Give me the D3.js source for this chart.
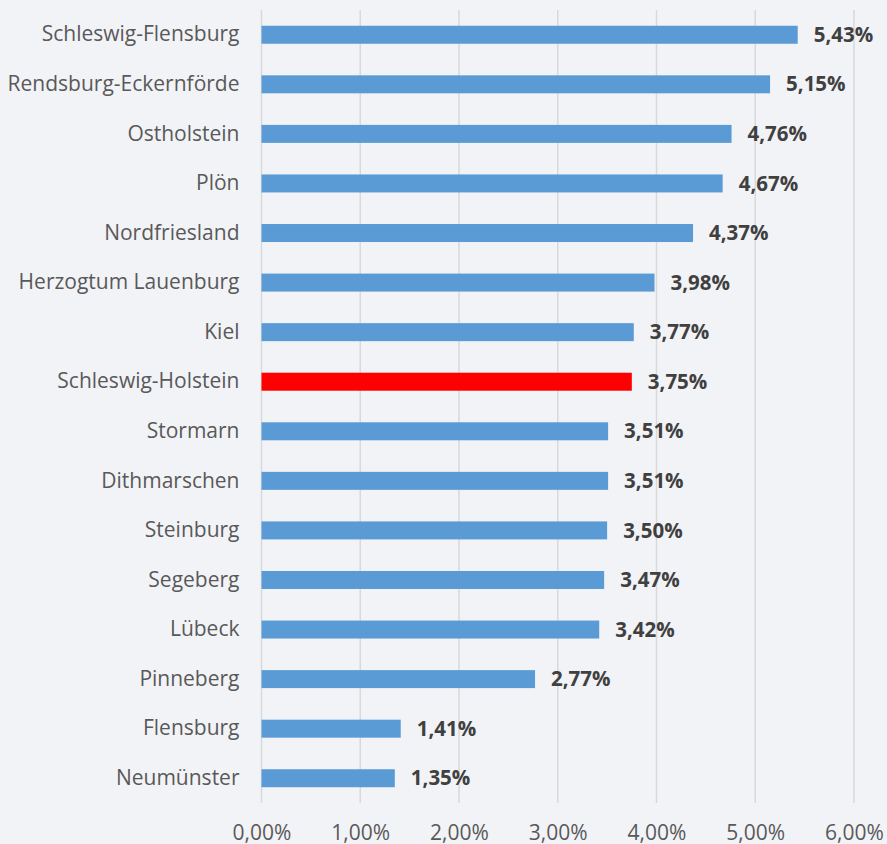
<!DOCTYPE html>
<html>
<head>
<meta charset="utf-8">
<script src="https://cdn.jsdelivr.net/npm/d3@7"></script>
<style>
  body { margin: 0; background: #f2f3f7; }
  svg { display: block; }
</style>
</head>
<body>
<div id="chart"></div>
<script>
var regions = ["Schleswig-Flensburg", "Rendsburg-Eckernförde", "Ostholstein", "Plön",
  "Nordfriesland", "Herzogtum Lauenburg", "Kiel", "Schleswig-Holstein", "Stormarn",
  "Dithmarschen", "Steinburg", "Segeberg", "Lübeck", "Pinneberg", "Flensburg", "Neumünster"];
var shares = [5.43, 5.15, 4.76, 4.67, 4.37, 3.98, 3.77, 3.75, 3.51, 3.51, 3.50, 3.47, 3.42, 2.77, 1.41, 1.35];
var highlight = "Schleswig-Holstein";
var xTicks = [0, 1, 2, 3, 4, 5, 6];

var width = 887, height = 844;
var margin = {top: 10, right: 33, bottom: 41, left: 261.5};

var fmt = function (v) { return v.toFixed(2).replace(".", ",") + "%"; };

var svg = d3.select("#chart").append("svg")
    .attr("width", width)
    .attr("height", height);

svg.append("rect").attr("width", width).attr("height", height).attr("fill", "#f2f3f7");

var x = d3.scaleLinear().domain([0, 6]).range([margin.left, width - margin.right]);
var y = d3.scaleBand().domain(regions).range([margin.top, height - margin.bottom]).paddingInner(0.637).paddingOuter(0.318);

// gridlines
svg.append("g").selectAll("line").data(xTicks).enter().append("line")
    .attr("x1", function (d) { return x(d); })
    .attr("x2", function (d) { return x(d); })
    .attr("y1", margin.top)
    .attr("y2", height - margin.bottom)
    .attr("stroke", "#d9d9d9")
    .attr("stroke-width", 1.5);

// x axis labels
var xAxis = d3.axisBottom(x).tickValues(xTicks).tickSize(0).tickPadding(0)
    .tickFormat(fmt);
var gx = svg.append("g").attr("transform", "translate(0," + (height - 19) + ")").call(xAxis);
gx.select(".domain").remove();
gx.selectAll("text")
    .attr("dy", "0.71em")
    .style("font-family", "'Open Sans', sans-serif")
    .style("font-size", "21px")
    .attr("fill", "#595959");

// y axis labels
var yAxis = d3.axisLeft(y).tickSize(0).tickPadding(22);
var gy = svg.append("g").attr("transform", "translate(" + margin.left + ",0)").call(yAxis);
gy.select(".domain").remove();
gy.selectAll("text")
    .style("font-family", "'Open Sans', sans-serif")
    .style("font-size", "21px")
    .attr("fill", "#595959");

// bars
svg.append("g").selectAll("rect").data(regions).enter().append("rect")
    .attr("x", x(0))
    .attr("y", function (d) { return y(d); })
    .attr("width", function (d, i) { return x(shares[i]) - x(0); })
    .attr("height", y.bandwidth())
    .attr("fill", function (d) { return d === highlight ? "#ff0000" : "#5b9bd5"; });

// value labels
svg.append("g").selectAll("text").data(regions).enter().append("text")
    .attr("x", function (d, i) { return x(shares[i]) + 16; })
    .attr("y", function (d) { return y(d) + y.bandwidth() / 2; })
    .attr("dy", "0.35em")
    .style("font-family", "'Open Sans', sans-serif")
    .style("font-size", "20.5px")
    .style("font-weight", "bold")
    .attr("fill", "#404040")
    .text(function (d, i) { return fmt(shares[i]); });
</script>
</body>
</html>
